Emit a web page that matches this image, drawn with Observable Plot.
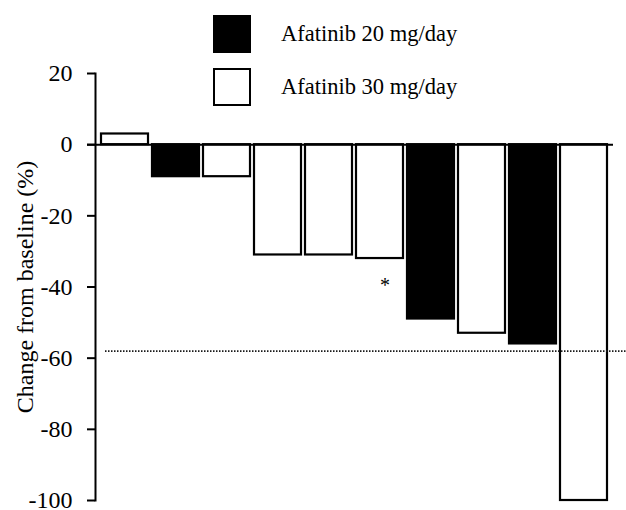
<!DOCTYPE html>
<html>
<head>
<meta charset="utf-8">
<script src="https://cdn.jsdelivr.net/npm/d3@7"></script>
<script src="https://cdn.jsdelivr.net/npm/@observablehq/plot@0.6"></script>
<style>
  html, body { margin: 0; padding: 0; background: #fff; }
  #wrap { position: relative; width: 626px; height: 510px; font-family: "Liberation Serif", "Times New Roman", serif; }
  .legend { position: absolute; left: 213px; display: flex; align-items: center; font-size: 22.5px; color: #000; }
  .sw { width: 34px; height: 34px; border: 2px solid #000; box-sizing: content-box; margin-right: 30px; }
</style>
</head>
<body>
<div id="wrap"></div>
<script>
// ---- data ----
const patients = ["1","2","3","4","5","6","7","8","9","10"];
const doses = [30, 20, 30, 30, 30, 30, 20, 30, 20, 30];
const changes = [3, -9, -9, -31, -31, -32, -49, -53, -56, -100];
const threshold = [-58];
const yTicks = [20, 0, -20, -40, -60, -80, -100];
const legendLabels = ["Afatinib 20 mg/day", "Afatinib 30 mg/day"];
const legendDoses = [20, 30];
const markers = [{patient: "6", value: -39.5, label: "*"}];

const rows = patients.map((p, i) => ({patient: p, dose: doses[i], value: changes[i]}));
const doseFill = d => d === 20 ? "#000" : "#fff";
const serif = "Liberation Serif, Times New Roman, serif";

const chart = Plot.plot({
  width: 626,
  height: 510,
  marginLeft: 95,
  marginRight: 13,
  marginTop: 73,
  marginBottom: 10,
  style: {fontFamily: serif, fontSize: "24px", color: "#000", background: "#fff", overflow: "visible"},
  x: {type: "band", domain: patients, paddingInner: 0.08, paddingOuter: 0.04, axis: null},
  y: {domain: [-100, 20], axis: null},
  marks: [
    Plot.barY(rows, {x: "patient", y: "value", fill: d => doseFill(d.dose), stroke: "#000", strokeWidth: 2.2}),
    Plot.ruleY([0], {stroke: "#000", strokeWidth: 2, insetLeft: -8}),
    Plot.ruleY(threshold, {stroke: "#1a1a1a", strokeWidth: 1.8, strokeDasharray: "1.5,1.5", insetLeft: 10, insetRight: -13}),
    Plot.text(markers, {x: "patient", y: "value", text: "label", dx: 5, fontSize: 20, fontFamily: serif}),
    Plot.frame({anchor: "left", stroke: "#000", strokeWidth: 2}),
    Plot.axisY({ticks: yTicks, tickSize: 8, tickPadding: 15, strokeWidth: 2, tickFormat: d => String(d),
      fontFamily: serif, fontSize: 24,
      label: "Change from baseline (%)", labelAnchor: "center", labelOffset: 80, labelArrow: false})
  ]
});

const wrap = document.getElementById("wrap");
wrap.appendChild(chart);

legendLabels.forEach((lab, i) => {
  const div = document.createElement("div");
  div.className = "legend";
  div.style.top = (15 + i * 53) + "px";
  const sw = document.createElement("div");
  sw.className = "sw";
  sw.style.background = doseFill(legendDoses[i]);
  const t = document.createElement("span");
  t.textContent = lab;
  div.appendChild(sw);
  div.appendChild(t);
  wrap.appendChild(div);
});
</script>
</body>
</html>
